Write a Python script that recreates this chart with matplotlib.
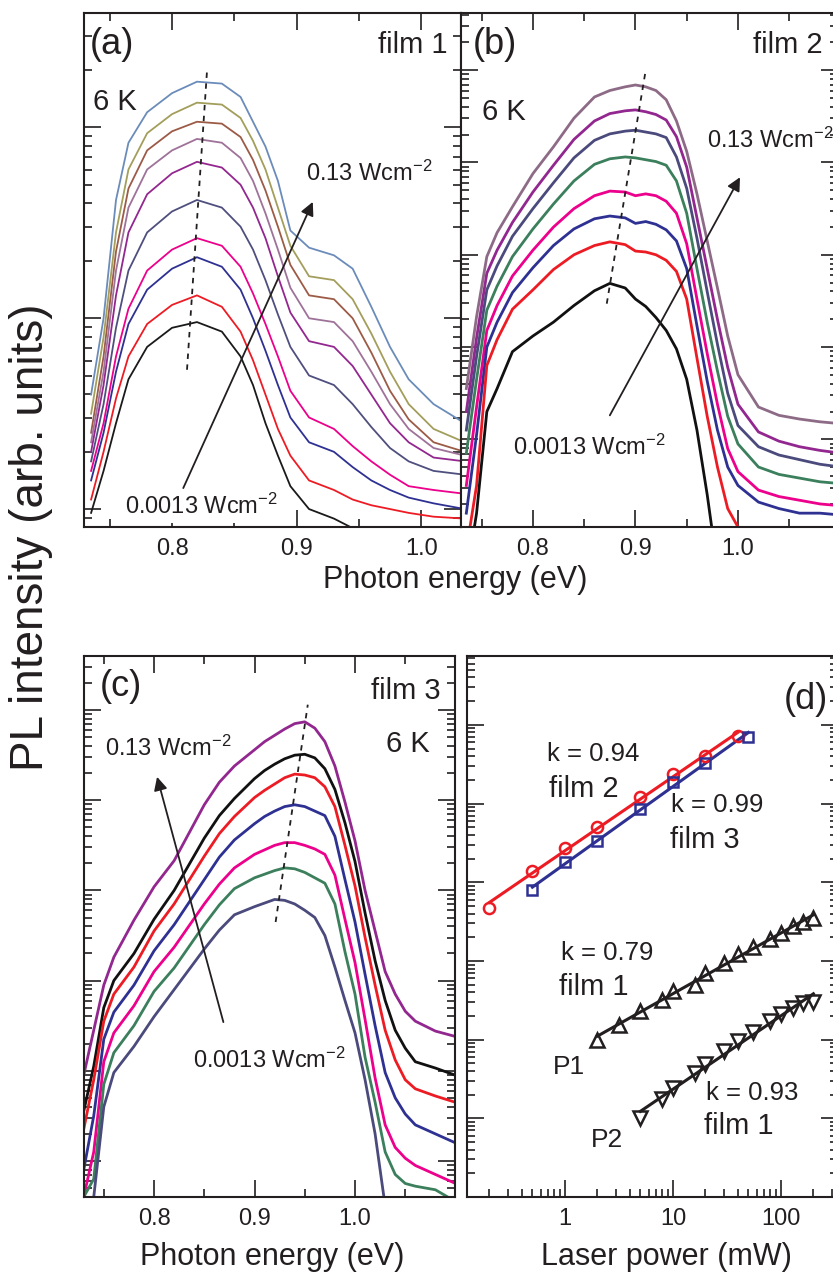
import numpy as np
import matplotlib.pyplot as plt
from matplotlib.ticker import LogLocator, MultipleLocator, NullFormatter, FormatStrFormatter, FuncFormatter

plt.rcParams['font.family'] = ['Liberation Sans', 'DejaVu Sans']
plt.rcParams['mathtext.fontset'] = 'custom'
plt.rcParams['mathtext.rm'] = 'Liberation Sans'
plt.rcParams['mathtext.default'] = 'regular'

ink = '#231f20'

# ---- (a) film 1 spectra: log10 PL intensity
energy_a = [0.735, 0.745, 0.755, 0.765, 0.78, 0.80, 0.82, 0.84, 0.855, 0.865, 0.875,
            0.885, 0.895, 0.91, 0.93, 0.945, 0.96, 0.975, 0.99, 1.01, 1.035]
film1_steel = [1.60, 2.00, 2.62, 2.92, 3.08, 3.18, 3.24, 3.23, 3.16, 3.03, 2.90, 2.72, 2.46, 2.37, 2.33, 2.26, 2.06, 1.85, 1.68, 1.55, 1.45]
film1_olive = [1.50, 1.90, 2.45, 2.78, 2.97, 3.07, 3.13, 3.12, 3.05, 2.93, 2.78, 2.58, 2.38, 2.22, 2.20, 2.10, 1.92, 1.72, 1.55, 1.42, 1.35]
film1_brown = [1.40, 1.80, 2.35, 2.68, 2.88, 2.98, 3.03, 3.02, 2.95, 2.83, 2.67, 2.48, 2.28, 2.12, 2.10, 2.00, 1.82, 1.62, 1.47, 1.35, 1.30]
film1_mauve = [1.35, 1.72, 2.25, 2.58, 2.78, 2.88, 2.94, 2.92, 2.84, 2.72, 2.55, 2.36, 2.16, 2.00, 1.98, 1.88, 1.72, 1.55, 1.42, 1.32, 1.28]
film1_purple = [1.30, 1.65, 2.12, 2.45, 2.65, 2.76, 2.82, 2.79, 2.70, 2.58, 2.42, 2.22, 2.03, 1.88, 1.85, 1.75, 1.60, 1.45, 1.35, 1.27, 1.25]
film1_slate = [1.25, 1.55, 1.95, 2.25, 2.45, 2.56, 2.62, 2.58, 2.48, 2.36, 2.20, 2.02, 1.85, 1.70, 1.65, 1.55, 1.43, 1.32, 1.25, 1.20, 1.18]
film1_magenta = [1.20, 1.45, 1.80, 2.05, 2.25, 2.36, 2.42, 2.38, 2.27, 2.13, 1.97, 1.80, 1.62, 1.48, 1.42, 1.33, 1.25, 1.18, 1.12, 1.10, 1.08]
film1_navy = [1.15, 1.40, 1.72, 1.97, 2.15, 2.26, 2.32, 2.27, 2.15, 2.00, 1.83, 1.65, 1.48, 1.35, 1.30, 1.22, 1.15, 1.10, 1.06, 1.03, 1.00]
film1_red = [1.05, 1.30, 1.58, 1.80, 1.97, 2.07, 2.12, 2.06, 1.93, 1.78, 1.60, 1.42, 1.28, 1.15, 1.10, 1.05, 1.02, 1.00, 0.98, 0.96, 0.95]
film1_black = [0.98, 1.20, 1.45, 1.68, 1.85, 1.95, 1.98, 1.93, 1.80, 1.65, 1.45, 1.28, 1.12, 1.00, 0.95, 0.90, 0.88, 0.87, 0.86, 0.85, 0.85]

# ---- (b) film 2 spectra
energy_b = [0.735, 0.745, 0.755, 0.765, 0.78, 0.80, 0.82, 0.84, 0.86, 0.875, 0.89, 0.90, 0.91,
            0.92, 0.93, 0.94, 0.95, 0.96, 0.97, 0.98, 0.99, 1.00, 1.02, 1.04, 1.06, 1.08, 1.10]
film2_mauve = [0.55, 1.33, 1.98, 2.24, 2.52, 2.88, 3.17, 3.48, 3.71, 3.78, 3.82, 3.84, 3.82, 3.78, 3.68, 3.45, 3.12, 2.66, 2.15, 1.64, 1.12, 0.70, 0.35, 0.26, 0.22, 0.19, 0.17]
film2_purple = [0.30, 1.10, 1.80, 2.05, 2.35, 2.68, 2.97, 3.25, 3.45, 3.53, 3.56, 3.57, 3.55, 3.52, 3.46, 3.28, 2.95, 2.40, 1.85, 1.30, 0.78, 0.38, 0.08, -0.02, -0.08, -0.12, -0.15]
film2_slate = [0.10, 0.90, 1.62, 1.88, 2.20, 2.50, 2.78, 3.05, 3.24, 3.31, 3.34, 3.35, 3.33, 3.31, 3.27, 3.06, 2.72, 2.18, 1.60, 1.03, 0.50, 0.15, -0.08, -0.17, -0.22, -0.27, -0.30]
film2_green = [-0.15, 0.65, 1.40, 1.66, 1.98, 2.28, 2.55, 2.80, 2.98, 3.04, 3.06, 3.05, 3.03, 3.01, 2.97, 2.80, 2.45, 1.85, 1.27, 0.74, 0.25, -0.05, -0.30, -0.38, -0.42, -0.46, -0.48]
film2_magenta = [-0.50, 0.35, 1.18, 1.45, 1.77, 2.05, 2.30, 2.50, 2.64, 2.69, 2.68, 2.64, 2.66, 2.64, 2.58, 2.45, 2.12, 1.52, 0.93, 0.38, -0.10, -0.35, -0.55, -0.62, -0.66, -0.70, -0.72]
film2_navy = [-0.80, 0.05, 1.00, 1.27, 1.59, 1.86, 2.10, 2.28, 2.39, 2.42, 2.40, 2.34, 2.36, 2.33, 2.27, 2.15, 1.85, 1.23, 0.63, 0.10, -0.30, -0.50, -0.68, -0.75, -0.80, -0.80, -0.82]
film2_red = [-1.20, -0.50, 0.80, 1.08, 1.41, 1.62, 1.84, 2.00, 2.10, 2.14, 2.11, 2.04, 2.03, 2.00, 1.94, 1.82, 1.52, 0.88, 0.25, -0.30, -0.75, -0.95, -1.05, -1.08, -1.10, -1.10, -1.10]
film2_black = [-1.50, -0.80, 0.30, 0.55, 0.95, 1.12, 1.27, 1.45, 1.61, 1.69, 1.64, 1.52, 1.44, 1.32, 1.18, 0.98, 0.65, 0.10, -0.60, -1.40]

# ---- (c) film 3 spectra
energy_c = [0.73, 0.74, 0.75, 0.76, 0.78, 0.80, 0.82, 0.85, 0.865, 0.88, 0.90, 0.91, 0.92, 0.93,
            0.94, 0.95, 0.96, 0.97, 0.98, 0.99, 1.00, 1.01, 1.02, 1.03, 1.04, 1.05, 1.06, 1.08, 1.10]
film3_purple = [0.95, 1.45, 1.95, 2.26, 2.67, 3.04, 3.33, 3.95, 4.20, 4.38, 4.56, 4.65, 4.72, 4.79, 4.85, 4.87, 4.80, 4.65, 4.38, 3.98, 3.55, 3.00, 2.55, 2.10, 1.85, 1.66, 1.55, 1.44, 1.38]
film3_black = [0.55, 1.05, 1.70, 2.00, 2.30, 2.68, 3.00, 3.58, 3.83, 4.02, 4.24, 4.33, 4.40, 4.46, 4.50, 4.51, 4.47, 4.35, 4.12, 3.75, 3.32, 2.75, 2.22, 1.78, 1.45, 1.25, 1.10, 1.03, 0.95]
film3_red = [0.35, 0.90, 1.55, 1.85, 2.15, 2.55, 2.85, 3.38, 3.63, 3.82, 4.03, 4.11, 4.18, 4.25, 4.29, 4.28, 4.25, 4.15, 3.93, 3.50, 3.05, 2.48, 1.95, 1.45, 1.12, 0.90, 0.80, 0.72, 0.65]
film3_navy = [-0.10, 0.50, 1.35, 1.65, 1.95, 2.33, 2.62, 3.12, 3.37, 3.56, 3.74, 3.82, 3.88, 3.93, 3.95, 3.93, 3.88, 3.83, 3.60, 3.12, 2.65, 2.07, 1.50, 0.98, 0.70, 0.52, 0.40, 0.30, 0.20]
film3_magenta = [-0.40, 0.10, 1.10, 1.42, 1.72, 2.10, 2.37, 2.85, 3.07, 3.25, 3.40, 3.45, 3.50, 3.53, 3.53, 3.50, 3.46, 3.40, 3.17, 2.68, 2.20, 1.57, 0.92, 0.40, 0.15, 0.03, -0.05, -0.15, -0.25]
film3_green = [-0.40, -0.20, 0.85, 1.20, 1.50, 1.88, 2.14, 2.62, 2.84, 3.02, 3.14, 3.18, 3.22, 3.25, 3.24, 3.20, 3.14, 3.08, 2.85, 2.32, 1.85, 1.15, 0.65, 0.10, -0.15, -0.25, -0.28, -0.32, -0.45]
film3_slate = [-0.45, -0.40, 0.60, 0.98, 1.27, 1.60, 1.90, 2.35, 2.56, 2.73, 2.82, 2.86, 2.90, 2.89, 2.85, 2.78, 2.70, 2.50, 2.15, 1.78, 1.42, 0.90, 0.30, -0.50]

# peak-shift guide lines and excitation arrows: (energy, log10 I) pairs
peak_guide_a = [(0.812, 1.73), (0.828, 3.29)]
peak_guide_b = [(0.872, 1.47), (0.910, 4.00)]
peak_guide_c = [(0.921, 2.65), (0.953, 5.06)]
arrow_a = [(0.809, 1.11), (0.913, 2.61)]
arrow_b = [(0.875, 0.26), (1.002, 2.84)]
arrow_c = [(0.869, 1.54), (0.803, 4.26)]

# ---- (d) integrated PL vs laser power
film2_power = [0.2, 0.5, 1, 2, 5, 10, 20, 40]
film2_pl = [4.7e3, 1.4e4, 2.7e4, 5.0e4, 1.2e5, 2.4e5, 4.0e5, 7.2e5]
film3_power = [0.5, 1, 2, 5, 10, 20, 50]
film3_pl = [7.9e3, 1.8e4, 3.3e4, 8.5e4, 1.9e5, 3.3e5, 7.1e5]
p1_power = [2, 3.2, 5, 8, 10, 16, 20, 30, 40, 55, 80, 100, 130, 160, 200]
p1_pl = [100, 155, 234, 316, 417, 490, 708, 955, 1230, 1510, 1905, 2240, 2750, 3090, 3470]
p2_power = [5, 8, 10, 16, 20, 30, 40, 55, 80, 100, 130, 160, 200]
p2_pl = [10, 17.8, 24, 38, 49, 72, 95, 126, 174, 209, 251, 295, 302]

W, H = 833, 1279
fig = plt.figure(figsize=(W / 100, H / 100), dpi=100)


def px_axes(x0, y0, x1, y1):
    return fig.add_axes([x0 / W, 1 - y1 / H, (x1 - x0) / W, (y1 - y0) / H])


ax_a = px_axes(84, 13, 461, 527)
ax_b = px_axes(461, 13, 838, 527)
ax_c = px_axes(84, 656, 455, 1197)
ax_d = px_axes(467, 656, 838, 1197)


def style(ax, top=True):
    ax.set_yscale('log')
    ax.yaxis.set_major_locator(LogLocator(base=10, numticks=30))
    ax.yaxis.set_minor_locator(LogLocator(base=10, subs=np.arange(2, 10) * 1.0, numticks=30))
    ax.yaxis.set_minor_formatter(NullFormatter())
    ax.tick_params(which='both', direction='in', top=top, right=True, labelleft=False,
                   labelsize=17, color=ink, labelcolor=ink, width=1.2, pad=8)
    ax.tick_params(which='major', length=12)
    ax.tick_params(which='minor', length=6)
    for s in ax.spines.values():
        s.set_linewidth(1.5)
        s.set_color(ink)


def energy_axis(ax, xlim, ylim):
    style(ax)
    ax.set_xlim(*xlim)
    ax.set_ylim(*ylim)
    ax.xaxis.set_major_locator(MultipleLocator(0.1))
    ax.xaxis.set_minor_locator(MultipleLocator(0.05))
    ax.xaxis.set_major_formatter(FormatStrFormatter('%.1f'))


def draw_spectra(ax, energy, curves, lw):
    for vals, color in curves:
        ax.plot(energy[:len(vals)], 10 ** np.array(vals), color=color, lw=lw, solid_joinstyle='round')


def guide_and_arrow(ax, guide, arrow):
    (x0, y0), (x1, y1) = guide
    ax.plot([x0, x1], [10 ** y0, 10 ** y1], color=ink, lw=1.3, ls=(0, (3, 3)))
    (tx, ty), (hx, hy) = arrow
    ax.annotate('', xy=(hx, 10 ** hy), xytext=(tx, 10 ** ty),
                arrowprops=dict(arrowstyle='-|>', color=ink, lw=1.3, mutation_scale=20,
                                shrinkA=0, shrinkB=0))


def label(ax, x, y, s, size, ha='left', **kw):
    ax.text(x, y, s, transform=ax.transAxes, fontsize=size, ha=ha, va='center', color=ink, **kw)


# (a)
energy_axis(ax_a, (0.7293, 1.032), (10 ** 0.906, 10 ** 3.60))
draw_spectra(ax_a, energy_a, [
    (film1_steel, '#6b8cba'), (film1_olive, '#a39e5c'), (film1_brown, '#9c5b47'),
    (film1_mauve, '#9e7299'), (film1_purple, '#93278f'), (film1_slate, '#4f4f7f'),
    (film1_magenta, '#ec008c'), (film1_navy, '#2e3192'), (film1_red, '#ed1c24'),
    (film1_black, '#1a1a1a')], lw=1.3)
guide_and_arrow(ax_a, peak_guide_a, arrow_a)
label(ax_a, 0.016, 0.938, '(a)', 26)
label(ax_a, 0.963, 0.938, 'film 1', 21, ha='right')
label(ax_a, 0.024, 0.827, '6 K', 21)
label(ax_a, 0.59, 0.689, '0.13 Wcm$^{-2}$', 17)
label(ax_a, 0.109, 0.04, '0.0013 Wcm$^{-2}$', 17,
      bbox=dict(facecolor='white', edgecolor='none', pad=3))

# (b)
energy_axis(ax_b, (0.7298, 1.0976), (10 ** -0.95, 10 ** 4.62))
ax_b.spines['right'].set_visible(False)
draw_spectra(ax_b, energy_b, [
    (film2_mauve, '#8d6b87'), (film2_purple, '#92278f'), (film2_slate, '#4b4a7c'),
    (film2_green, '#3b7f5c'), (film2_magenta, '#ec008c'), (film2_navy, '#2e3192'),
    (film2_red, '#ed1c24'), (film2_black, '#111111')], lw=2.0)
guide_and_arrow(ax_b, peak_guide_b, arrow_b)
label(ax_b, 0.032, 0.938, '(b)', 26)
label(ax_b, 0.958, 0.938, 'film 2', 21, ha='right')
label(ax_b, 0.056, 0.807, '6 K', 21)
label(ax_b, 0.653, 0.753, '0.13 Wcm$^{-2}$', 17)
label(ax_b, 0.138, 0.156, '0.0013 Wcm$^{-2}$', 17)

# (c)
energy_axis(ax_c, (0.7303, 1.0995), (10 ** -0.4, 10 ** 5.6))
draw_spectra(ax_c, energy_c, [
    (film3_purple, '#92278f'), (film3_black, '#111111'), (film3_red, '#ed1c24'),
    (film3_navy, '#2e3192'), (film3_magenta, '#ec008c'), (film3_green, '#3b7f5c'),
    (film3_slate, '#4b4a7c')], lw=2.0)
guide_and_arrow(ax_c, peak_guide_c, arrow_c)
label(ax_c, 0.043, 0.943, '(c)', 26)
label(ax_c, 0.96, 0.935, 'film 3', 21, ha='right')
label(ax_c, 0.933, 0.837, '6 K', 21, ha='right')
label(ax_c, 0.057, 0.83, '0.13 Wcm$^{-2}$', 17)
label(ax_c, 0.294, 0.253, '0.0013 Wcm$^{-2}$', 17)

# (d)
style(ax_d, top=False)
ax_d.set_xscale('log')
ax_d.set_xlim(0.124, 338)
ax_d.set_ylim(1, 10 ** 6.875)
ax_d.spines['right'].set_visible(False)
ax_d.xaxis.set_major_locator(LogLocator(base=10, numticks=30))
ax_d.xaxis.set_minor_locator(LogLocator(base=10, subs=np.arange(2, 10) * 1.0, numticks=30))
ax_d.xaxis.set_minor_formatter(NullFormatter())
ax_d.xaxis.set_major_formatter(FuncFormatter(lambda v, p: f'{v:g}'))


def fit_line(ax, p, i, color):
    k, b = np.polyfit(np.log10(p), np.log10(i), 1)
    xx = np.array([min(p), max(p)], dtype=float)
    ax.plot(xx, 10 ** b * xx ** k, color=color, lw=2.2, zorder=2)


fit_line(ax_d, film2_power, film2_pl, '#ed1c24')
fit_line(ax_d, film3_power, film3_pl, '#2e3192')
fit_line(ax_d, p1_power, p1_pl, ink)
fit_line(ax_d, p2_power, p2_pl, ink)
ax_d.plot(film2_power, film2_pl, 'o', ms=8, mfc='none', mec='#ed1c24', mew=1.8, zorder=3)
ax_d.plot(film3_power, film3_pl, 's', ms=7, mfc='none', mec='#2e3192', mew=1.8, zorder=3)
ax_d.plot(p1_power, p1_pl, '^', ms=10, mfc='none', mec=ink, mew=1.8, zorder=3)
ax_d.plot(p2_power, p2_pl, 'v', ms=10, mfc='none', mec=ink, mew=1.8, zorder=3)
label(ax_d, 0.973, 0.92, '(d)', 26, ha='right')
label(ax_d, 0.216, 0.818, 'k = 0.94', 18.5)
label(ax_d, 0.221, 0.754, 'film 2', 21)
label(ax_d, 0.55, 0.725, 'k = 0.99', 18.5)
label(ax_d, 0.547, 0.66, 'film 3', 21)
label(ax_d, 0.253, 0.451, 'k = 0.79', 18.5)
label(ax_d, 0.248, 0.388, 'film 1', 21)
label(ax_d, 0.232, 0.24, 'P1', 19)
label(ax_d, 0.334, 0.105, 'P2', 19)
label(ax_d, 0.644, 0.192, 'k = 0.93', 18.5)
label(ax_d, 0.639, 0.131, 'film 1', 21)

# shared labels
fig.text(455 / W, 1 - 580 / H, 'Photon energy (eV)', fontsize=22, ha='center', va='center', color=ink)
fig.text(272 / W, 1 - 1257 / H, 'Photon energy (eV)', fontsize=22, ha='center', va='center', color=ink)
fig.text(666 / W, 1 - 1257 / H, 'Laser power (mW)', fontsize=22, ha='center', va='center', color=ink)
fig.text(31 / W, 1 - 537 / H, 'PL intensity (arb. units)', fontsize=33, rotation=90,
         ha='center', va='center', color=ink)

fig.savefig('out.png', dpi=100)
